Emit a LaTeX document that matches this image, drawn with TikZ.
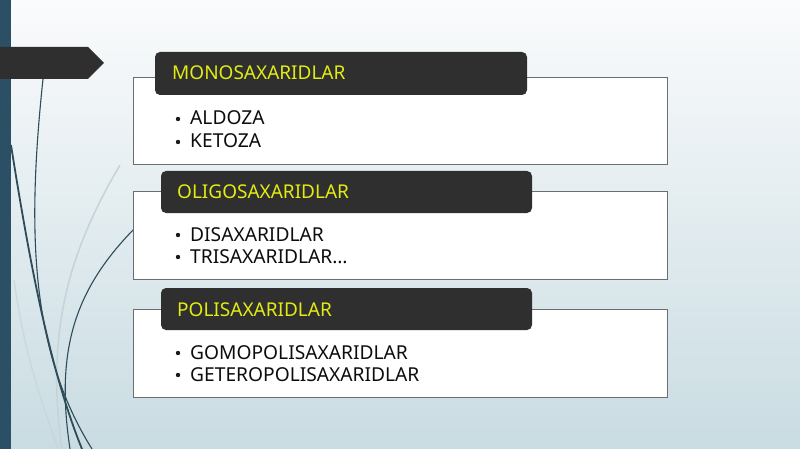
\documentclass[tikz,border=0pt]{standalone}
\usepackage{fontspec}
\setmainfont{Noto Sans}
\definecolor{bgtop}{HTML}{FAFBFC}
\definecolor{bgbot}{HTML}{C9DCE2}
\definecolor{barc}{HTML}{2B5066}
\definecolor{hdr}{HTML}{2F2F2F}
\definecolor{hdrtxt}{HTML}{E3EC12}
\definecolor{boxline}{HTML}{6A6E70}
\definecolor{curvec}{HTML}{2D4B58}
\definecolor{ghostc}{HTML}{C3D4DA}
\tikzset{
  outerbox/.style={draw=boxline, line width=0.9pt, fill=white},
  hdrbox/.style={fill=hdr, rounded corners=5pt},
  hdrtext/.style={anchor=base west, inner sep=0pt, text=hdrtxt, font=\fontsize{19}{22}\selectfont},
  itemtext/.style={anchor=base west, inner sep=0pt, text=black!95, font=\fontsize{19.2}{22}\selectfont},
  bulletdot/.style={circle, fill=black!90, inner sep=0pt, minimum size=4.4pt},
  curvethick/.style={draw=curvec, line width=1.8pt},
  curvethin/.style={draw=curvec, line width=1.1pt},
  ghost/.style={draw=ghostc, line width=1.5pt},
}
\begin{document}
\begin{tikzpicture}[x=1pt,y=-1pt]
\useasboundingbox (0,0) rectangle (800,449);
\shade[top color=bgtop, bottom color=bgbot] (0,0) rectangle (800,449);
% left bar
\fill[barc] (0,0) rectangle (11,449);
% ghost curves
\draw[ghost] (120,165) .. controls (70,250) and (45,330) .. (62,449);
\draw[ghost, draw opacity=0.6] (14,280) .. controls (25,360) and (45,410) .. (58,449);
% curves
\draw[curvethin] (43,79) .. controls (27,230) and (30,350) .. (92,449);
\draw[curvethick] (11,145) .. controls (30,265) and (50,370) .. (82,449);
\draw[curvethin] (133,230) .. controls (75,290) and (55,350) .. (70,449);
% pentagon
\fill[hdr] (0,47) -- (88,47) -- (104,63) -- (88,79) -- (0,79) -- cycle;
% boxes
\draw[outerbox] (133,77) rectangle (667,164);
\fill[hdrbox] (155,52) rectangle (527,95);
\node[hdrtext] (h1) at (172,80) {MONOSAXARIDLAR};
\node[bulletdot] (b11) at (178,119) {};
\node[itemtext] (t11) at (190,125) {ALDOZA};
\node[bulletdot] (b12) at (178,142) {};
\node[itemtext] (t12) at (190,148) {KETOZA};

\draw[outerbox] (133,191) rectangle (667,279);
\fill[hdrbox] (161,171) rectangle (532,213);
\node[hdrtext] (h2) at (177,198) {OLIGOSAXARIDLAR};
\node[bulletdot] (b21) at (178,235) {};
\node[itemtext] (t21) at (190,241) {DISAXARIDLAR};
\node[bulletdot] (b22) at (178,257) {};
\node[itemtext] (t22) at (190,263) {TRISAXARIDLAR…};

\draw[outerbox] (133,309) rectangle (667,397);
\fill[hdrbox] (161,288) rectangle (532,330);
\node[hdrtext] (h3) at (177,316) {POLISAXARIDLAR};
\node[bulletdot] (b31) at (178,353) {};
\node[itemtext] (t31) at (190,359) {GOMOPOLISAXARIDLAR};
\node[bulletdot] (b32) at (178,375) {};
\node[itemtext] (t32) at (190,381) {GETEROPOLISAXARIDLAR};
\end{tikzpicture}
\end{document}
